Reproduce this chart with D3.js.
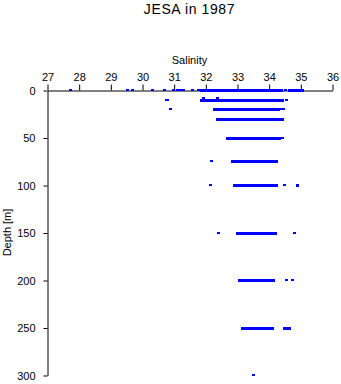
<!DOCTYPE html>
<html>
<head>
<meta charset="utf-8">
<script src="https://cdn.jsdelivr.net/npm/d3@7"></script>
<style>
  html, body { margin: 0; padding: 0; background: #fff; }
  svg { display: block; font-family: "Liberation Sans", Arial, Helvetica, sans-serif; }
</style>
</head>
<body>
<div id="chart"></div>
<script>
// Salinity profile samples, JESA cruise 1987.
// Continuous stretches of readings at one depth (depth in m, salinity range).
const runDepth = [0, 0, 0, 10, 20, 30, 50, 50, 75, 100, 150, 200, 250, 250];
const runLow   = [31.86, 34.63, 34.86, 31.86, 32.27, 32.38, 32.68, 33.54, 32.85, 32.92, 32.99, 33.07, 33.17, 34.49];
const runHigh  = [34.41, 34.80, 35.08, 34.44, 34.33, 34.46, 33.50, 34.36, 34.25, 34.27, 34.22, 34.18, 34.13, 34.67];

// Isolated readings (depth in m, salinity).
const pointDepth = [0, 0, 0, 0, 0, 0, 0, 0, 0, 0, 0, 0,
                    8.5, 8.5, 10, 11, 10,
                    20, 20, 20.5,
                    31, 31, 51,
                    75, 100, 100, 100, 101,
                    150, 150, 200, 200, 300];
const pointSal   = [27.73, 29.54, 29.69, 30.31, 30.69, 30.99, 31.10, 31.20, 31.30, 31.59, 31.78, 34.52,
                    31.93, 32.36, 30.76, 30.80, 34.56,
                    30.89, 34.39, 34.46,
                    32.40, 34.42, 34.42,
                    32.18, 32.15, 34.49, 34.88, 34.88,
                    32.40, 34.81, 34.56, 34.75, 33.51];

// Axis ticks
const salTicks = [27, 28, 29, 30, 31, 32, 33, 34, 35, 36];
const depthTicks = [0, 50, 100, 150, 200, 250, 300];

const W = 341, H = 384;
const svg = d3.select("#chart").append("svg").attr("width", W).attr("height", H);

const x = d3.scaleLinear().domain([27, 36]).range([47, 332]);
const y = d3.scaleLinear().domain([0, 300]).range([90, 375]);

// Title
svg.append("text")
  .attr("x", (47 + 332) / 2).attr("y", 13.5)
  .attr("text-anchor", "middle")
  .attr("font-size", 14).attr("letter-spacing", 0.6)
  .text("JESA in 1987");

// Salinity axis along the top
const gx = svg.append("g").attr("transform", "translate(0.5,90.5)")
  .call(d3.axisTop(x).tickValues(salTicks).tickSize(6).tickSizeOuter(0).tickPadding(4)
          .tickFormat(d3.format("d")));
// Depth axis on the left
const gy = svg.append("g").attr("transform", "translate(47.5,0.5)")
  .call(d3.axisLeft(y).tickValues(depthTicks).tickSize(4).tickSizeOuter(0).tickPadding(8)
          .tickFormat(d3.format("d")));

[gx, gy].forEach(g => {
  g.attr("font-family", null).attr("font-size", 11);
  g.selectAll("path.domain, .tick line").attr("stroke", "#000").attr("stroke-width", 1);
  g.selectAll("text").attr("fill", "#000");
});

svg.append("text")
  .attr("x", (47 + 332) / 2).attr("y", 64)
  .attr("text-anchor", "middle").attr("font-size", 11)
  .text("Salinity");

svg.append("text")
  .attr("transform", `translate(11,${(90 + 375) / 2}) rotate(-90)`)
  .attr("text-anchor", "middle").attr("font-size", 11)
  .text("Depth [m]");

// Observations
const data = svg.append("g").attr("fill", "#0000ff").attr("shape-rendering", "crispEdges");

data.selectAll("rect.run")
  .data(runDepth.map((d, i) => ({ d, lo: runLow[i], hi: runHigh[i] })))
  .join("rect").attr("class", "run")
  .attr("x", r => x(r.lo) - 1)
  .attr("width", r => x(r.hi) - x(r.lo) + 2)
  .attr("y", r => y(r.d) - 1)
  .attr("height", 3);

data.selectAll("rect.pt")
  .data(pointDepth.map((d, i) => ({ d, s: pointSal[i] })))
  .join("rect").attr("class", "pt")
  .attr("x", p => x(p.s) - 1)
  .attr("y", p => y(p.d) - 1)
  .attr("width", 3)
  .attr("height", 2);
</script>
</body>
</html>
